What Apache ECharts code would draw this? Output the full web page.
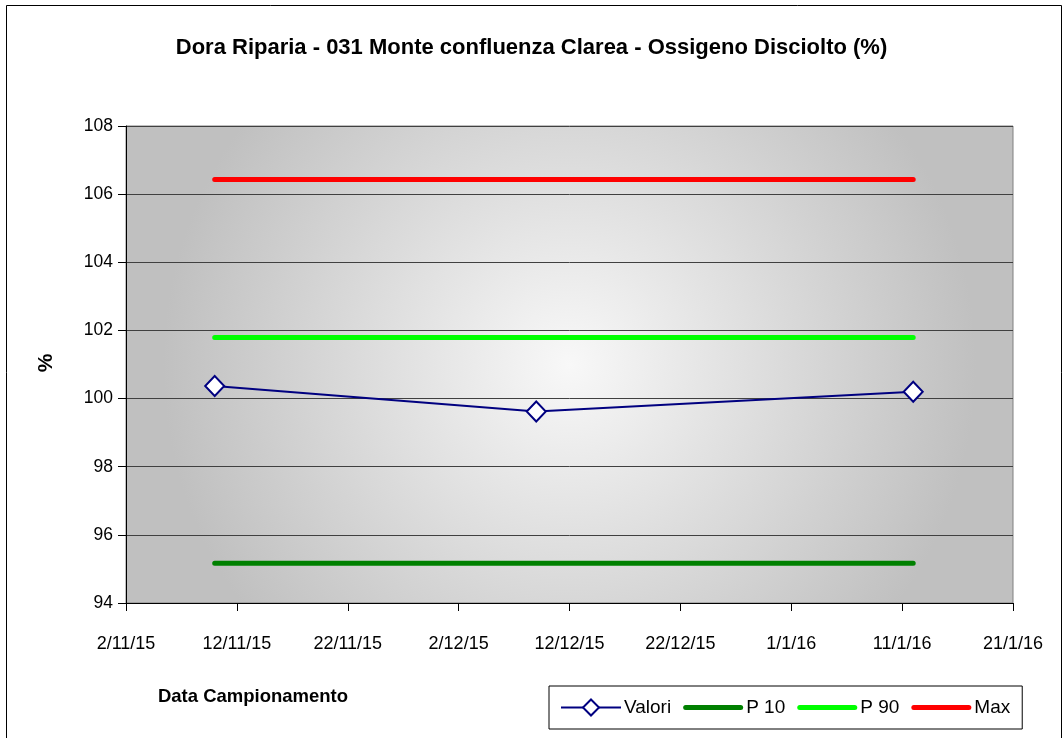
<!DOCTYPE html>
<html>
<head>
<meta charset="utf-8">
<script src="https://cdn.jsdelivr.net/npm/echarts@6/dist/echarts.min.js"></script>
<style>
  html, body { margin: 0; padding: 0; background: #fff; }
  #chart { width: 1063px; height: 738px; }
</style>
</head>
<body>
<div id="chart"></div>
<script>
// dati
const dates = ['2015-11-10', '2015-12-09', '2016-01-12']
const valori = [100.37, 99.62, 100.2]
const p10 = [95.17, 95.17, 95.17]
const p90 = [101.79, 101.79, 101.79]
const maxVals = [106.43, 106.43, 106.43]
const xStart = '2015-11-02'
const xEnd = '2016-01-21'
const yTicks = [94, 96, 98, 100, 102, 104, 106, 108]

const DAY = 86400000
const toUtc = s => { const p = s.split('-').map(Number); return Date.UTC(p[0], p[1] - 1, p[2]) }
const base = toUtc(xStart)
const dayOf = s => (toUtc(s) - base) / DAY
const fmtDate = v => {
  const d = new Date(base + v * DAY)
  return d.getUTCDate() + '/' + (d.getUTCMonth() + 1) + '/' + (d.getUTCFullYear() % 100)
}
const pairs = vals => dates.map((d, i) => [dayOf(d), vals[i]])

const font = 'Liberation Sans, Arial, sans-serif'
// icona legenda: barra spessa arrotondata
const barIcon = 'path://M2.5,0L57.5,0A2.5,2.5 0 0 1 57.5,5L2.5,5A2.5,2.5 0 0 1 2.5,0Z'

const chart = echarts.init(document.getElementById('chart'))

const flatLine = (name, vals, color) => ({
  name, type: 'line', data: pairs(vals),
  symbol: 'none', z: 2,
  lineStyle: { color, width: 5, cap: 'round' },
  itemStyle: { color },
  emphasis: { disabled: true }
})

chart.setOption({
  animation: false,
  backgroundColor: '#fff',
  title: {
    text: 'Dora Riparia - 031 Monte confluenza Clarea - Ossigeno Disciolto (%)',
    left: 'center', top: 32,
    textStyle: { fontFamily: font, fontSize: 22, fontWeight: 'bold', color: '#000' }
  },
  grid: {
    left: 126, right: 50, top: 126, bottom: 135,
    show: true,
    borderColor: '#808080', borderWidth: 1,
    backgroundColor: new echarts.graphic.RadialGradient(0.5, 0.5, 0.85, [
      { offset: 0, color: '#f8f8f8' },
      { offset: 1, color: '#c0c0c0' }
    ])
  },
  xAxis: {
    type: 'value',
    min: 0, max: dayOf(xEnd), interval: 10,
    axisLine: { show: true, lineStyle: { color: '#000', width: 1 } },
    axisTick: { show: true, inside: false, length: 8, lineStyle: { color: '#000' } },
    axisLabel: { formatter: fmtDate, margin: 32, fontFamily: font, fontSize: 18, color: '#000' },
    splitLine: { show: false }
  },
  yAxis: {
    type: 'value',
    min: yTicks[0], max: yTicks[yTicks.length - 1], interval: 2,
    axisLine: { show: true, lineStyle: { color: '#000', width: 1 } },
    axisTick: { show: true, inside: false, length: 8, lineStyle: { color: '#000' } },
    axisLabel: { margin: 13, fontFamily: font, fontSize: 17.5, color: '#000' },
    splitLine: { show: true, lineStyle: { color: '#404040', width: 1 } }
  },
  legend: {
    data: [
      { name: 'Valori' },
      { name: 'P 10', icon: barIcon },
      { name: 'P 90', icon: barIcon },
      { name: 'Max', icon: barIcon }
    ],
    left: 549, top: 686,
    padding: [12, 12, 12, 11],
    itemGap: 12, itemWidth: 60, itemHeight: 20,
    borderColor: '#000', borderWidth: 1,
    textStyle: { fontFamily: font, fontSize: 19, color: '#000', padding: [0, 0, 0, -2] }
  },
  graphic: [
    { type: 'rect', shape: { x: 6.5, y: 5.5, width: 1055, height: 760 },
      style: { fill: 'none', stroke: '#000', lineWidth: 1 }, silent: true, z: -1 },
    { type: 'text', x: 46, y: 363, rotation: Math.PI / 2,
      style: { text: '%', font: 'bold 21px ' + font, fill: '#000', align: 'center', verticalAlign: 'middle' } },
    { type: 'text', x: 253, y: 697,
      style: { text: 'Data Campionamento', font: 'bold 18.5px ' + font, fill: '#000', align: 'center', verticalAlign: 'middle' } }
  ],
  series: [
    {
      name: 'Valori', type: 'line', data: pairs(valori), z: 5,
      symbol: 'diamond', symbolSize: [19, 20],
      lineStyle: { color: '#000080', width: 2 },
      itemStyle: { color: '#fff', borderColor: '#000080', borderWidth: 2 },
      emphasis: { disabled: true }
    },
    flatLine('P 10', p10, '#008000'),
    flatLine('P 90', p90, '#00ff00'),
    flatLine('Max', maxVals, '#ff0000')
  ]
})
</script>
</body>
</html>
